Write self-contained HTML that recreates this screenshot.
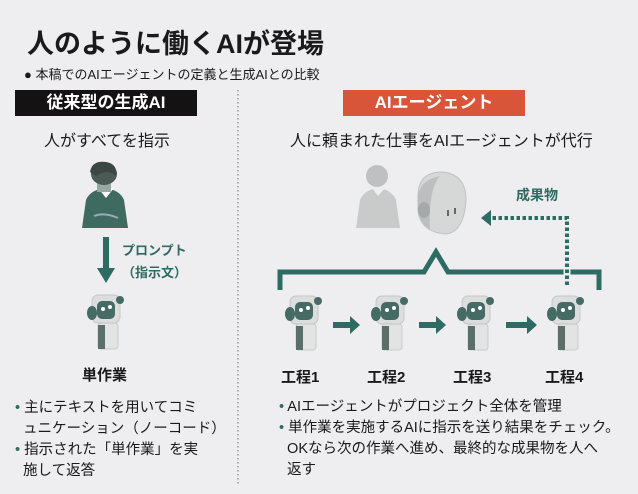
<!DOCTYPE html>
<html><head><meta charset="utf-8"><style>
body{margin:0;background:#eeedf0;}
.w{position:relative;width:638px;height:494px;overflow:hidden;background:#eeedf0;font-family:"Liberation Sans","Noto Sans CJK JP",sans-serif;color:#1a1a1a;}
.a{position:absolute;white-space:nowrap;}
.b{font-weight:bold;}
</style></head><body><div class="w">
<svg width="638" height="494" style="position:absolute;left:0;top:0">
<defs>
<g id="rb">
<rect x="14" y="32" width="20" height="26" rx="3" fill="#e2e3e3" stroke="#c8caca"/>
<rect x="14" y="34" width="7" height="24" fill="#5b6f6a"/>
<rect x="8" y="4" width="28" height="28" rx="6" fill="#dcdddd" stroke="#c4c6c6"/>
<rect x="13" y="10" width="18" height="18" rx="5" fill="#466a64"/>
<circle cx="19" cy="18" r="2" fill="#fff"/><circle cx="26" cy="16" r="2" fill="#fff"/>
<ellipse cx="8" cy="22" rx="5" ry="7" fill="#466a64"/>
<circle cx="36" cy="9" r="4" fill="#466a64"/>
</g>
</defs>
<line x1="238" y1="90" x2="238" y2="484" stroke="#888" stroke-width="1.2" stroke-dasharray="1.5 2.5"/>
<g>
<path d="M82 228 L86 200 Q90 190 105 188 Q120 190 124 200 L128 228 Z" fill="#3e6a5f"/>
<path d="M98 188 L106 198 L114 188 Z" fill="#fff"/>
<rect x="97" y="180" width="14" height="12" fill="#9aa8a4"/>
<ellipse cx="104" cy="174" rx="13" ry="11" fill="#4c5a55"/>
<path d="M90 172 Q92 160 106 162 Q118 164 116 176 Q108 168 96 176 Z" fill="#3a4743"/>
<path d="M94 216 Q104 212 118 218" stroke="#9ab" stroke-width="2" fill="none"/>
</g>
<rect x="103" y="237" width="6" height="32" fill="#2e6b63"/>
<path d="M97 268 L115 268 L106 283 Z" fill="#2e6b63"/>
<use href="#rb" x="84" y="291"/>
<g fill="#c9cbcb">
<path d="M356 228 L360 200 Q364 190 378 188 Q392 190 396 200 L400 228 Z"/>
<ellipse cx="377" cy="176" rx="11" ry="11" fill="#bfc1c1"/>
</g>
<path d="M372 188 L378 196 L385 188 Z" fill="#eee"/>
<path d="M418 196 Q418 172 442 172 Q466 174 466 200 Q464 232 446 234 Q420 232 418 210 Z" fill="#d6d7d7" stroke="#c0c2c2"/>
<path d="M418 196 Q420 180 440 176 Q428 190 430 230 Q418 220 418 210 Z" fill="#bdbfbf"/>
<ellipse cx="424" cy="210" rx="6" ry="8" fill="#a6a9a9"/>
<rect x="447" y="210" width="2" height="6" fill="#666"/><rect x="454" y="208" width="2" height="6" fill="#666"/>
<path d="M280 290 L280 272 L424 272 L436 252 L448 272 L599 272 L599 290" fill="none" stroke="#2e6b63" stroke-width="5"/>
<path d="M567 285 L567 218 L488 218" fill="none" stroke="#eeedf0" stroke-width="7"/>
<path d="M567 285 L567 218 L488 218" fill="none" stroke="#2e6b63" stroke-width="4" stroke-dasharray="3.5 2.5"/>
<path d="M481 218 L491 210 L491 226 Z" fill="#2e6b63"/>
<use href="#rb" x="282" y="292"/>
<use href="#rb" x="368" y="292"/>
<use href="#rb" x="454" y="292"/>
<use href="#rb" x="544" y="292"/>
<g fill="#2e6b63">
<rect x="333" y="322" width="18" height="6"/><path d="M350 316 L360 325 L350 334 Z"/>
<rect x="419" y="322" width="18" height="6"/><path d="M436 316 L446 325 L436 334 Z"/>
<rect x="506" y="322" width="22" height="6"/><path d="M527 316 L537 325 L527 334 Z"/>
</g>
</svg>
<div class="a b" style="left:27px;top:22px;font-size:27px">人のように働くAIが登場</div>
<div class="a" style="left:24px;top:64px;font-size:13px">● 本稿でのAIエージェントの定義と生成AIとの比較</div>
<div class="a b" style="left:15px;top:90px;width:182px;height:26px;background:#141212;color:#fff;font-size:17px;line-height:26px;text-align:center">従来型の生成AI</div>
<div class="a b" style="left:343px;top:90px;width:182px;height:26px;background:#d9553a;color:#fff;font-size:17px;line-height:26px;text-align:center">AIエージェント</div>
<div class="a" style="left:44px;top:127px;font-size:16px">人がすべてを指示</div>
<div class="a" style="left:290px;top:127px;font-size:16px">人に頼まれた仕事をAIエージェントが代行</div>
<div class="a b" style="left:122px;top:240px;font-size:13px;color:#2e6b63">プロンプト</div>
<div class="a b" style="left:122px;top:262px;font-size:13px;color:#2e6b63">（指示文）</div>
<div class="a b" style="left:516px;top:185px;font-size:14px;color:#2e6b63">成果物</div>
<div class="a b" style="left:82px;top:364px;font-size:15px">単作業</div>
<div class="a b" style="left:281px;top:366px;font-size:15px">工程1</div>
<div class="a b" style="left:367px;top:366px;font-size:15px">工程2</div>
<div class="a b" style="left:453px;top:366px;font-size:15px">工程3</div>
<div class="a b" style="left:545px;top:366px;font-size:15px">工程4</div>
<div class="a" style="left:15px;top:398px;font-size:14.5px;line-height:21px"><span style="color:#2e6b63">•</span> 主にテキストを用いてコミ<br>&nbsp;&nbsp;ュニケーション（ノーコード）<br><span style="color:#2e6b63">•</span> 指示された「単作業」を実<br>&nbsp;&nbsp;施して返答</div>
<div class="a" style="left:279px;top:397px;font-size:14.5px;line-height:21px"><span style="color:#2e6b63">•</span> AIエージェントがプロジェクト全体を管理<br><span style="color:#2e6b63">•</span> 単作業を実施するAIに指示を送り結果をチェック。<br>&nbsp;&nbsp;OKなら次の作業へ進め、最終的な成果物を人へ<br>&nbsp;&nbsp;返す</div>
</div></body></html>
